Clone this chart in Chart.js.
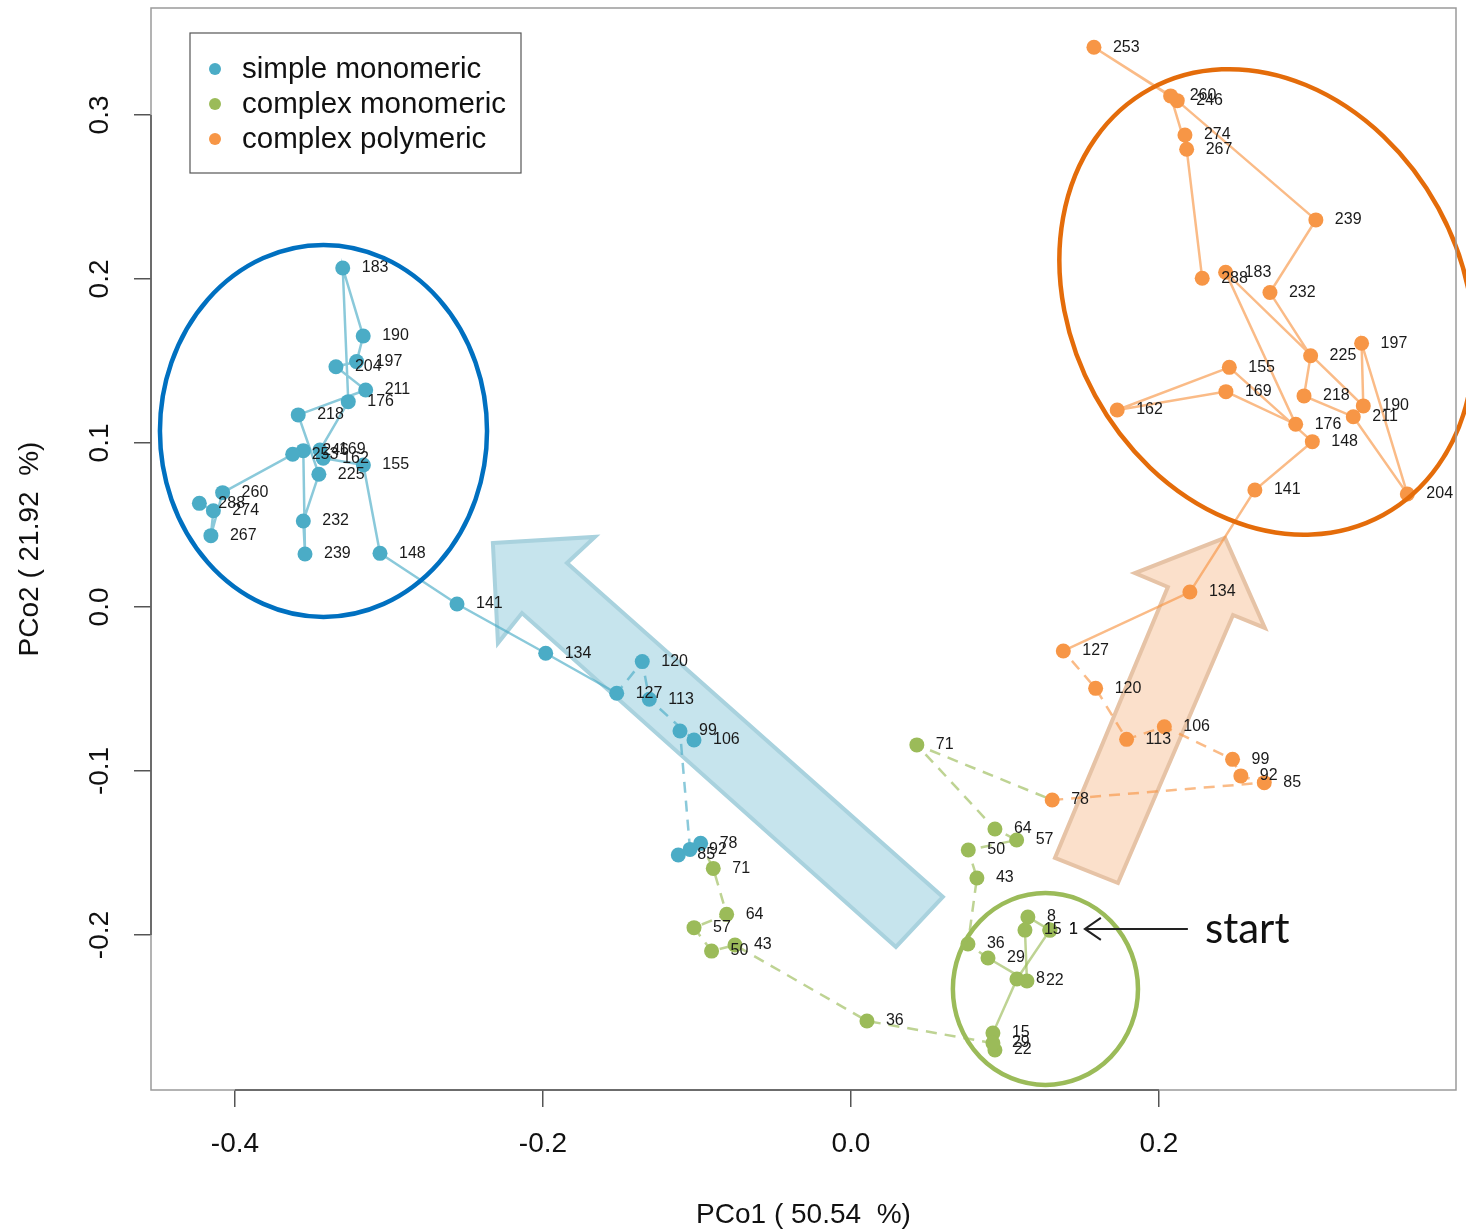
<!DOCTYPE html>
<html>
<head>
<meta charset="utf-8">
<title>PCoA trajectories</title>
<script src="https://cdn.jsdelivr.net/npm/chart.js@4.4.1/dist/chart.umd.min.js"></script>
<style>
  html, body { margin: 0; padding: 0; background: #fff; }
  #wrap { width: 1466px; height: 1232px; }
</style>
</head>
<body>
<div id="wrap"><canvas id="pcoa"></canvas></div>
<script>
// sampling days (labels next to each point)
const days = [1, 8, 15, 22, 29, 36, 43, 50, 57, 64, 71, 78, 85, 92, 99, 106, 113, 120, 127, 134,
  141, 148, 155, 162, 169, 176, 183, 190, 197, 204, 211, 218, 225, 232, 239, 246, 253, 260, 267, 274, 288];
const lastMonomericDay = 71;

// trajectory ending as simple monomeric
const simplePco1 = [0.1292, 0.1078, 0.0922, 0.0935, 0.0922, 0.0104, -0.0753, -0.0905, -0.1019, -0.0807,
  -0.0894, -0.0976, -0.1121, -0.1045, -0.1110, -0.1019, -0.1309, -0.1355, -0.1521, -0.1982,
  -0.2558, -0.3058, -0.3166, -0.3427, -0.3448, -0.3264, -0.3300, -0.3167, -0.3210, -0.3344,
  -0.3151, -0.3589, -0.3455, -0.3556, -0.3545, -0.3556, -0.3625, -0.4080, -0.4156, -0.4140, -0.4231];
const simplePco2 = [-0.1970, -0.2268, -0.2598, -0.2701, -0.2659, -0.2524, -0.2061, -0.2098, -0.1955, -0.1874,
  -0.1594, -0.1441, -0.1512, -0.1478, -0.0756, -0.0811, -0.0563, -0.0333, -0.0526, -0.0282,
  0.0018, 0.0327, 0.0866, 0.0907, 0.0957, 0.1252, 0.2067, 0.1652, 0.1496, 0.1465,
  0.1323, 0.1171, 0.0809, 0.0524, 0.0323, 0.0953, 0.0931, 0.0697, 0.0435, 0.0587, 0.0632];

// trajectory ending as complex polymeric
const polyPco1 = [0.1292, 0.1149, 0.1130, 0.1143, 0.0890, 0.0760, 0.0818, 0.0762, 0.1076, 0.0935,
  0.0428, 0.1307, 0.2684, 0.2532, 0.2478, 0.2035, 0.1790, 0.1589, 0.1379, 0.2201,
  0.2623, 0.2996, 0.2457, 0.1729, 0.2435, 0.2888, 0.2433, 0.3327, 0.3316, 0.3613,
  0.3262, 0.2942, 0.2985, 0.2721, 0.3019, 0.2119, 0.1578, 0.2076, 0.2180, 0.2169, 0.2281];
const polyPco2 = [-0.1970, -0.1890, -0.1970, -0.2280, -0.2140, -0.2055, -0.1652, -0.1482, -0.1421, -0.1354,
  -0.0841, -0.1177, -0.1071, -0.1030, -0.0929, -0.0730, -0.0807, -0.0496, -0.0268, 0.0091,
  0.0713, 0.1008, 0.1461, 0.1201, 0.1313, 0.1114, 0.2041, 0.1226, 0.1608, 0.0689,
  0.1160, 0.1287, 0.1532, 0.1917, 0.2360, 0.3087, 0.3413, 0.3116, 0.2791, 0.2878, 0.2004];

const phaseNames = ["simple monomeric", "complex monomeric", "complex polymeric"];
const phaseColors = ["#4BACC6", "#9BBB59", "#F79646"];
const phaseLines = ["rgba(75,172,198,0.65)", "rgba(155,187,89,0.65)", "rgba(247,150,70,0.65)"];

const xTicks = [-0.4, -0.2, 0.0, 0.2];
const yTicks = [-0.2, -0.1, 0.0, 0.1, 0.2, 0.3];

// hand-drawn overlays, in data units
const blueArrow = [[-0.2325, 0.0390], [-0.1662, 0.0427], [-0.1844, 0.0268], [0.0597, -0.1768],
  [0.0292, -0.2073], [-0.2136, -0.0037], [-0.2292, -0.0220]];
const orangeArrow = [[0.1325, -0.1530], [0.1734, -0.1683], [0.2481, -0.0049], [0.2688, -0.0128],
  [0.2429, 0.0421], [0.1844, 0.0207], [0.2058, 0.0122]];
const rings = [
  { cx: -0.3425, cy: 0.1073, rx: 0.1062, ry: 0.1134, rot: 0, color: "#0070C0" },
  { cx: 0.2700, cy: 0.1860, rx: 0.1270, ry: 0.1480, rot: -0.5, color: "#E46C0A" },
  { cx: 0.1263, cy: -0.2329, rx: 0.0601, ry: 0.0585, rot: 0, color: "#9BBB59" }
];
const startNote = { fromX: 0.2188, toX: 0.1519, y: -0.1963, textX: 0.2299 };

const FONT = "'Liberation Sans', Arial, sans-serif";

function phaseOf(i, finalPhase) {
  return days[i] <= lastMonomericDay ? 1 : finalPhase;
}

function trajectory(xs, ys, finalPhase) {
  return {
    data: days.map((d, i) => ({ x: xs[i], y: ys[i] })),
    showLine: true,
    borderWidth: 2.5,
    pointRadius: 7.5,
    pointBorderWidth: 0,
    pointBackgroundColor: days.map((d, i) => phaseColors[phaseOf(i, finalPhase)]),
    segment: {
      borderColor: ctx => phaseLines[phaseOf(ctx.p0DataIndex, finalPhase)],
      borderDash: ctx => {
        const d = days[ctx.p0DataIndex];
        return (d >= 29 && d < 127) ? [11, 8] : [];
      }
    }
  };
}

const decor = {
  id: "decor",
  beforeDatasetsDraw(chart) {
    const { ctx, scales: { x, y } } = chart;
    const poly = (pts, fill, stroke) => {
      ctx.save();
      ctx.beginPath();
      pts.forEach((p, i) => {
        const px = x.getPixelForValue(p[0]), py = y.getPixelForValue(p[1]);
        i ? ctx.lineTo(px, py) : ctx.moveTo(px, py);
      });
      ctx.closePath();
      ctx.fillStyle = fill;
      ctx.fill();
      ctx.lineWidth = 4;
      ctx.lineJoin = "miter";
      ctx.strokeStyle = stroke;
      ctx.stroke();
      ctx.restore();
    };
    poly(blueArrow, "#C6E4ED", "#A9D2DE");
    poly(orangeArrow, "#FBE0CB", "#E6C3A6");
  },
  afterDatasetsDraw(chart) {
    const { ctx, scales: { x, y } } = chart;
    ctx.save();
    // day labels
    ctx.font = "16px " + FONT;
    ctx.fillStyle = "#1a1a1a";
    ctx.textBaseline = "middle";
    ctx.textAlign = "left";
    chart.data.datasets.forEach((ds, di) => {
      chart.getDatasetMeta(di).data.forEach((pt, i) => {
        ctx.fillText(String(days[i]), pt.x + 19, pt.y);
      });
    });

    // ellipses
    rings.forEach(r => {
      const cx = x.getPixelForValue(r.cx), cy = y.getPixelForValue(r.cy);
      const rx = x.getPixelForValue(r.cx + r.rx) - cx;
      const ry = cy - y.getPixelForValue(r.cy + r.ry);
      ctx.beginPath();
      ctx.ellipse(cx, cy, rx, ry, r.rot, 0, Math.PI * 2);
      ctx.lineWidth = 4.5;
      ctx.strokeStyle = r.color;
      ctx.stroke();
    });

    // "start" pointer
    const sy = y.getPixelForValue(startNote.y);
    const x0 = x.getPixelForValue(startNote.fromX), x1 = x.getPixelForValue(startNote.toX);
    ctx.strokeStyle = "#222";
    ctx.lineWidth = 2;
    ctx.beginPath();
    ctx.moveTo(x0, sy); ctx.lineTo(x1, sy);
    ctx.moveTo(x1 + 16, sy - 11); ctx.lineTo(x1, sy); ctx.lineTo(x1 + 16, sy + 11);
    ctx.stroke();
    ctx.font = "42px Lato, 'Open Sans', sans-serif";
    ctx.fillStyle = "#111";
    ctx.fillText("start", x.getPixelForValue(startNote.textX), sy + 1);
    ctx.restore();
  },
  afterDraw(chart) {
    const { ctx, chartArea: a, scales: { x, y } } = chart;
    ctx.save();
    // plot frame
    ctx.strokeStyle = "#9a9a9a";
    ctx.lineWidth = 1.5;
    ctx.strokeRect(a.left, a.top, a.right - a.left, a.bottom - a.top);
    // axis lines between first and last tick
    ctx.strokeStyle = "#555";
    ctx.beginPath();
    ctx.moveTo(x.getPixelForValue(xTicks[0]), a.bottom);
    ctx.lineTo(x.getPixelForValue(xTicks[xTicks.length - 1]), a.bottom);
    ctx.moveTo(a.left, y.getPixelForValue(yTicks[0]));
    ctx.lineTo(a.left, y.getPixelForValue(yTicks[yTicks.length - 1]));
    ctx.stroke();
    // rotated y tick labels
    ctx.font = "28px " + FONT;
    ctx.fillStyle = "#111";
    ctx.textAlign = "center";
    ctx.textBaseline = "middle";
    yTicks.forEach(v => {
      ctx.save();
      ctx.translate(100, y.getPixelForValue(v));
      ctx.rotate(-Math.PI / 2);
      ctx.fillText(v.toFixed(1), 0, 0);
      ctx.restore();
    });
    // legend
    const lx = a.left + 39, ly = a.top + 25;
    ctx.fillStyle = "#fff";
    ctx.fillRect(lx, ly, 331, 140);
    ctx.strokeStyle = "#555";
    ctx.lineWidth = 1.2;
    ctx.strokeRect(lx, ly, 331, 140);
    ctx.textAlign = "left";
    ctx.font = "29.5px " + FONT;
    phaseNames.forEach((name, i) => {
      const cy = ly + 36 + i * 35;
      ctx.beginPath();
      ctx.arc(lx + 25, cy, 6, 0, Math.PI * 2);
      ctx.fillStyle = phaseColors[i];
      ctx.fill();
      ctx.fillStyle = "#111";
      ctx.fillText(name, lx + 52, cy + 1);
    });
    ctx.restore();
  }
};

new Chart(document.getElementById("pcoa"), {
  type: "scatter",
  data: {
    datasets: [
      trajectory(simplePco1, simplePco2, 0),
      trajectory(polyPco1, polyPco2, 2)
    ]
  },
  options: {
    responsive: true,
    maintainAspectRatio: false,
    animation: false,
    layout: { padding: { left: 0, right: 10, top: 8, bottom: 0 } },
    plugins: {
      legend: { display: false },
      tooltip: { enabled: false }
    },
    scales: {
      x: {
        type: "linear",
        min: -0.4545,
        max: 0.3929,
        afterBuildTicks: s => { s.ticks = xTicks.map(v => ({ value: v })); },
        afterFit: s => { s.height = 142; },
        border: { display: false },
        grid: { drawOnChartArea: false, drawTicks: true, tickLength: 17, color: "#555", lineWidth: 1.5 },
        ticks: {
          font: { family: FONT, size: 28 },
          color: "#111",
          padding: 20,
          maxRotation: 0,
          autoSkip: false,
          callback: v => v.toFixed(1)
        },
        title: {
          display: true,
          text: "PCo1 ( 50.54  %)",
          font: { family: FONT, size: 28 },
          color: "#111",
          padding: { top: 0, bottom: 0 }
        }
      },
      y: {
        type: "linear",
        min: -0.2945,
        max: 0.3652,
        afterBuildTicks: s => { s.ticks = yTicks.map(v => ({ value: v })); },
        afterFit: s => { s.width = 151; },
        border: { display: false },
        grid: { drawOnChartArea: false, drawTicks: true, tickLength: 17, color: "#555", lineWidth: 1.5 },
        ticks: { display: false },
        title: {
          display: true,
          text: "PCo2 ( 21.92  %)",
          font: { family: FONT, size: 28 },
          color: "#111",
          padding: { top: 13, bottom: 0 }
        }
      }
    }
  },
  plugins: [decor]
});
</script>
</body>
</html>
